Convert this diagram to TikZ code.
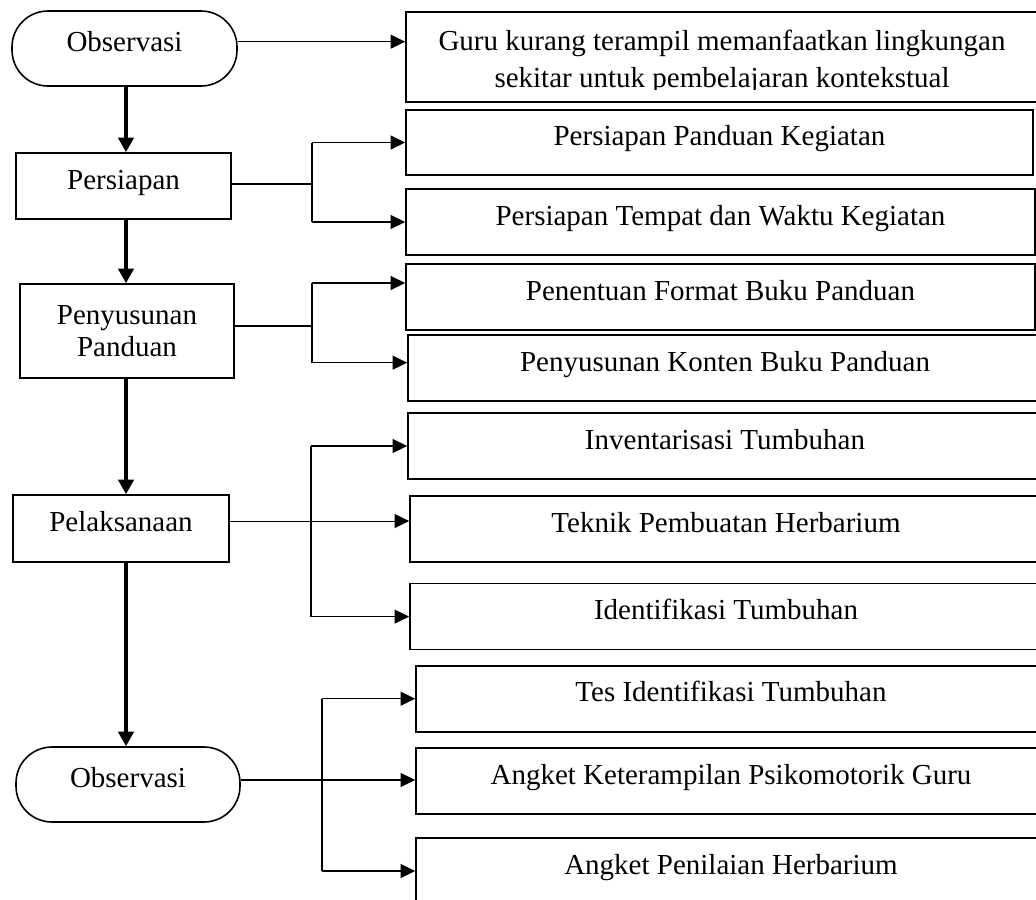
\documentclass[tikz,border=0pt]{standalone}
\usepackage{fontspec}
\setmainfont{Liberation Serif}
\usetikzlibrary{arrows.meta}
\begin{document}
\begin{tikzpicture}[x=0.75pt,y=-0.75pt,
  every node/.style={font=\fontsize{21.75}{24.5}\selectfont},
  box/.style={draw, line width=1.2pt, rectangle, inner sep=0pt, align=center},
  onel/.style={text height=0.72em, text depth=0.25em},
  term/.style={box, rounded corners=27pt},
  mainarrow/.style={line width=2.8pt, -{Triangle[length=11pt,width=11.5pt]}},
  branch/.style={line width=0.8pt},
  brarrow/.style={branch, -{Triangle[length=11pt,width=10.5pt]}},
  txt/.style={inner sep=0pt, anchor=base}
]
\clip (0,0) rectangle (1036,900);

% left column
\node[term, onel, minimum width=168.75pt, minimum height=56.25pt] (obs1) at (124.5,48.5) {Observasi};
\node[box, onel, minimum width=161.25pt, minimum height=49.5pt] (pers) at (123.5,186) {Persiapan};
\node[box, minimum width=160.5pt, minimum height=70.5pt] (pen) at (127,331) {Penyusunan\\Panduan};
\node[box, onel, minimum width=162pt, minimum height=50.25pt] (pel) at (121,528.5) {Pelaksanaan};
\node[term, onel, minimum width=168pt, minimum height=56.25pt] (obs2) at (128,784.5) {Observasi};

% right column
\node[box, minimum width=475.5pt, minimum height=67.5pt] (guru) at (723,56.7) {};
\begin{scope}
  \clip (400,0) rectangle (1036,89.5);
  \node[txt] (guru1) at (722,50) {Guru kurang terampil memanfaatkan lingkungan};
  \node[txt] (guru2) at (722,87) {sekitar untuk pembelajaran kontekstual};
\end{scope}
\node[box, onel, minimum width=470.25pt, minimum height=48.75pt] (ppk) at (719.5,142.5) {Persiapan Panduan Kegiatan};
\node[box, onel, minimum width=471.75pt, minimum height=49.5pt] (tempat) at (720.5,222) {Persiapan Tempat dan Waktu Kegiatan};
\node[box, onel, minimum width=471.75pt, minimum height=49.5pt] (format) at (720.5,297) {Penentuan Format Buku Panduan};
\node[box, onel, minimum width=475.5pt, minimum height=49.5pt] (konten) at (725,368) {Penyusunan Konten Buku Panduan};
\node[box, onel, minimum width=475.5pt, minimum height=49.5pt] (invent) at (725,446) {Inventarisasi Tumbuhan};
\node[box, onel, minimum width=474pt, minimum height=49.5pt] (teknik) at (726,529) {Teknik Pembuatan Herbarium};
\node[box, onel, minimum width=474pt, minimum height=49.5pt] (ident) at (726,616.6) {Identifikasi Tumbuhan};
\node[box, onel, minimum width=472.5pt, minimum height=49.5pt] (tes) at (731,698.7) {Tes Identifikasi Tumbuhan};
\node[box, onel, minimum width=472.5pt, minimum height=49.5pt] (angket) at (731,781) {Angket Keterampilan Psikomotorik Guru};
\node[box, onel, minimum width=472.5pt, minimum height=49.5pt] (nilai) at (731,871) {Angket Penilaian Herbarium};

% main spine
\coordinate (spine) at (126,0);
\draw[mainarrow] (obs1.south -| spine) -- (pers.north -| spine);
\draw[mainarrow] (pers.south -| spine) -- (pen.north -| spine);
\draw[mainarrow] (pen.south -| spine) -- (pel.north -| spine);
\draw[mainarrow] (pel.south -| spine) -- (obs2.north -| spine);

% observasi -> guru
\draw[brarrow] ([yshift=5.1pt]obs1.east) -- ([yshift=5.1pt]obs1.east -| guru.west);

% persiapan branch
\coordinate (b1) at (312,0);
\draw[branch] ([yshift=1.5pt]pers.east) -- ([yshift=1.5pt]pers.east -| b1);
\draw[branch] (b1 |- ppk.west) -- (b1 |- tempat.west);
\draw[brarrow] (b1 |- ppk.west) -- (ppk.west);
\draw[brarrow] (b1 |- tempat.west) -- (tempat.west);

% penyusunan branch
\coordinate (b2) at (312,0);
\draw[branch] ([yshift=3.75pt]pen.east) -- ([yshift=3.75pt]pen.east -| b2);
\draw[branch] ([yshift=10.5pt]b2 |- format.west) -- ([yshift=4pt]b2 |- konten.west);
\draw[brarrow] ([yshift=10.5pt]b2 |- format.west) -- ([yshift=10.5pt]format.west);
\draw[brarrow] ([yshift=4pt]b2 |- konten.west) -- ([yshift=4pt]konten.west);

% pelaksanaan branch
\coordinate (b3) at (311,0);
\draw[brarrow] ([yshift=5.6pt]pel.east) -- ([yshift=5.6pt]pel.east -| teknik.west);
\draw[branch] (b3 |- invent.west) -- (b3 |- ident.west);
\draw[brarrow] (b3 |- invent.west) -- (invent.west);
\draw[brarrow] (b3 |- ident.west) -- (ident.west);

% observasi 2 branch
\coordinate (b4) at (322,0);
\draw[brarrow] ([yshift=3.4pt]obs2.east) -- ([yshift=3.4pt]obs2.east -| angket.west);
\draw[branch] (b4 |- tes.west) -- (b4 |- nilai.west);
\draw[brarrow] (b4 |- tes.west) -- (tes.west);
\draw[brarrow] (b4 |- nilai.west) -- (nilai.west);
\end{tikzpicture}
\end{document}
